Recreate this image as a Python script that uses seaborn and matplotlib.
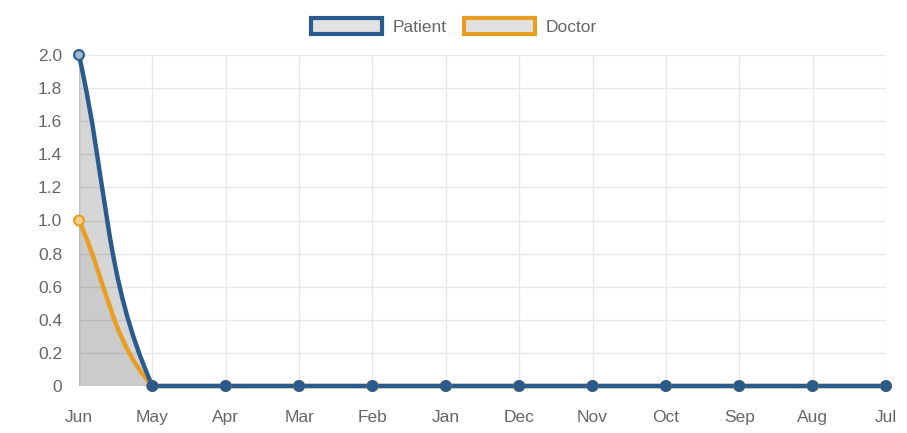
import numpy as np
import seaborn as sns
import matplotlib.pyplot as plt
from matplotlib.path import Path
from matplotlib.patches import PathPatch, Patch
from matplotlib.ticker import FuncFormatter

# Datos
months = ["Jun", "May", "Apr", "Mar", "Feb", "Jan", "Dec", "Nov", "Oct", "Sep", "Aug", "Jul"]
patient = [2, 0, 0, 0, 0, 0, 0, 0, 0, 0, 0, 0]
doctor = [1, 0, 0, 0, 0, 0, 0, 0, 0, 0, 0, 0]

patient_color = "#2a5b8c"
doctor_color = "#e89e22"
text_color = "#666666"
grid_color = "#e8e8e8"
fontsize = 12.5

sns.set_style("white")
plt.rcParams["font.family"] = ["Liberation Sans", "DejaVu Sans"]

fig = plt.figure(figsize=(9.07, 4.33), dpi=100)
ax = fig.add_axes([79 / 907, 47 / 433, 807 / 907, 331 / 433])
ax.set_xlim(0, len(months) - 1)
ax.set_ylim(0, 2.0)

# escala aproximada en pixeles por unidad (para la tension tipo Chart.js)
sx = 807 / (len(months) - 1)
sy = 331 / 2.0


def curve_path(xs, ys, t=0.4, ymin=0.0, ymax=2.0):
    n = len(xs)
    cps = []
    for i in range(n):
        fx, fy = (xs[i - 1], ys[i - 1]) if i > 0 else (xs[i], ys[i])
        mx, my = xs[i], ys[i]
        ax_, ay_ = (xs[i + 1], ys[i + 1]) if i < n - 1 else (xs[i], ys[i])
        d01 = np.hypot((mx - fx) * sx, (my - fy) * sy)
        d12 = np.hypot((ax_ - mx) * sx, (ay_ - my) * sy)
        tot = d01 + d12
        s01 = d01 / tot if tot else 0
        s12 = d12 / tot if tot else 0
        fa, fb = t * s01, t * s12
        prev = (mx - fa * (ax_ - fx), np.clip(my - fa * (ay_ - fy), ymin, ymax))
        nxt = (mx + fb * (ax_ - fx), np.clip(my + fb * (ay_ - fy), ymin, ymax))
        cps.append((prev, nxt))
    verts = [(xs[0], ys[0])]
    codes = [Path.MOVETO]
    for i in range(n - 1):
        verts += [cps[i][1], cps[i + 1][0], (xs[i + 1], ys[i + 1])]
        codes += [Path.CURVE4] * 3
    return verts, codes


x = np.arange(len(months))

series = [(doctor, doctor_color, "#f3cf8c", 0.05, 2), (patient, patient_color, "#9db8d2", 0.16, 3)]
for vals, color, light, fill_alpha, z in series:
    verts, codes = curve_path(x, vals)
    # relleno
    fverts = verts + [(x[-1], 0), (x[0], 0), (x[0], vals[0])]
    fcodes = codes + [Path.LINETO, Path.LINETO, Path.CLOSEPOLY]
    ax.add_patch(PathPatch(Path(fverts, fcodes), facecolor=(0, 0, 0, fill_alpha), edgecolor="none", zorder=1))
    ax.add_patch(PathPatch(Path(verts, codes), facecolor="none", edgecolor=color, lw=3.2, zorder=z,
                           clip_on=False, capstyle="round", joinstyle="round"))
    faces = [color if v == 0 else light for v in vals]
    sns.scatterplot(x=x, y=vals, s=50, color=faces, edgecolor=color, linewidth=1.5,
                    zorder=z + 2, ax=ax, clip_on=False, legend=False)

# Ejes y rejilla
ax.set_xticks(x)
ax.set_xticklabels(months)
ax.set_yticks(np.arange(0, 2.01, 0.2))
ax.yaxis.set_major_formatter(FuncFormatter(lambda v, p: "0" if abs(v) < 1e-9 else f"{v:.1f}"))
ax.grid(True, color=grid_color, lw=1)
ax.set_axisbelow(True)
for s in ax.spines.values():
    s.set_visible(False)
ax.axvline(0, color=grid_color, lw=1, zorder=0)
ax.tick_params(axis="both", length=10, color=grid_color, labelsize=fontsize, labelcolor=text_color, pad=2)
ax.tick_params(axis="x", pad=7)
ax.set_xlabel("")
ax.set_ylabel("")

# Leyenda
handles = [Patch(facecolor="#e2e2e2", edgecolor=patient_color, lw=3, label="Patient"),
           Patch(facecolor="#e2e2e2", edgecolor=doctor_color, lw=3, label="Doctor")]
leg = fig.legend(handles=handles, loc="upper center", bbox_to_anchor=(0.5, 0.995), ncol=2, frameon=False,
                 handlelength=4.1, handleheight=1.1, columnspacing=1.0, handletextpad=0.6, fontsize=fontsize)
for t in leg.get_texts():
    t.set_color(text_color)

plt.savefig("out.png", dpi=100, facecolor="white")
plt.close()
